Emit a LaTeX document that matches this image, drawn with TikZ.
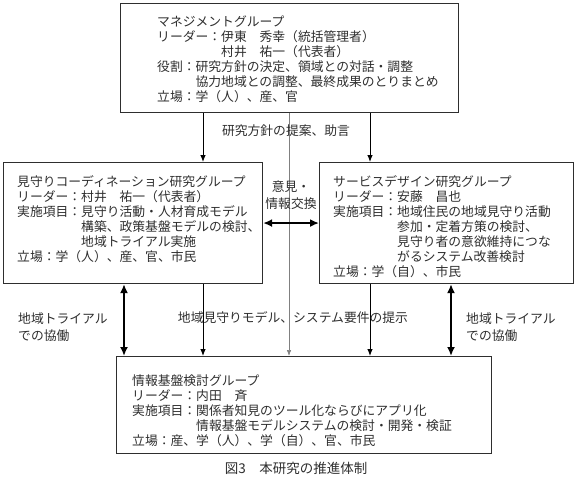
\documentclass[tikz,border=0pt]{standalone}
\usepackage{fontspec}
\setmainfont{Noto Sans CJK JP}
\usetikzlibrary{arrows.meta,positioning}
\definecolor{boxgray}{HTML}{2E2E2E}
\definecolor{linegray}{HTML}{808080}
\tikzset{
    >={Latex[length=7pt,width=5.5pt]},
    groupbox/.style={
        rectangle,
        draw=boxgray,
        line width=1.1pt,
        anchor=north west,
        inner sep=0pt
    },
    grouptext/.style={
        anchor=north west,
        align=left,
        inner sep=0pt,
        text=boxgray,
        font={\fontsize{12.8pt}{15pt}\selectfont}
    },
    lbl/.style={
        align=center,
        inner sep=0pt,
        text=boxgray,
        font={\fontsize{12.8pt}{17pt}\selectfont}
    },
    flow/.style={draw=black, line width=0.9pt, ->},
    guide/.style={draw=linegray, line width=0.6pt, -{Latex[length=6pt,width=4.5pt]}},
    coop/.style={draw=black, line width=2.4pt,
        {Latex[length=9pt,width=8pt]}-{Latex[length=9pt,width=8pt]}},
}

\begin{document}
\begin{tikzpicture}[x=1pt,y=-1pt]
\useasboundingbox (0,0) rectangle (580,476);

% group boxes
\node[groupbox, minimum width=338pt, minimum height=109pt] (mgmt) at (120,3) {};
\node[groupbox, minimum width=259pt, minimum height=121pt] (coord) at (3,162) {};
\node[groupbox, minimum width=254pt, minimum height=121pt] (design) at (319,162) {};
\node[groupbox, minimum width=375pt, minimum height=97pt] (infra) at (116,356) {};

% box contents
\node[grouptext] (mgmttext) at (157,15.5) {マネジメントグループ\\
  リーダー：伊東　秀幸（統括管理者）\\
  \hphantom{リーダー：}村井　祐一（代表者）\\
  役割：研究方針の決定、領域との対話・調整\\
  \hphantom{役割：}協力地域との調整、最終成果のとりまとめ\\
  立場：学（人）、産、官};
\node[grouptext] (coordtext) at (17,175.5) {見守りコーディネーション研究グループ\\
  リーダー：村井　祐一（代表者）\\
  実施項目：見守り活動・人材育成モデル\\
  \hphantom{実施項目：}構築、政策基盤モデルの検討、\\
  \hphantom{実施項目：}地域トライアル実施\\
  立場：学（人）、産、官、市民};
\node[grouptext] (designtext) at (333,175.5) {サービスデザイン研究グループ\\
  リーダー：安藤　昌也\\
  実施項目：地域住民の地域見守り活動\\
  \hphantom{実施項目：}参加・定着方策の検討、\\
  \hphantom{実施項目：}見守り者の意欲維持につな\\
  \hphantom{実施項目：}がるシステム改善検討\\
  立場：学（自）、市民};
\node[grouptext] (infratext) at (132,374.5) {情報基盤検討グループ\\
  リーダー：内田　斉\\
  実施項目：関係者知見のツール化ならびにアプリ化\\
  \hphantom{実施項目：}情報基盤モデルシステムの検討・開発・検証\\
  立場：産、学（人）、学（自）、官、市民};

% connector columns
\coordinate (xl) at (124,0);
\coordinate (xa) at (203,0);
\coordinate (xm) at (289,0);
\coordinate (xb) at (370,0);
\coordinate (xr) at (451,0);

\draw[flow] (mgmt.south -| xa) -- (coord.north -| xa);
\draw[flow] (mgmt.south -| xb) -- (design.north -| xb);
\draw[guide] (mgmt.south -| xm) -- (infra.north -| xm);
\draw[coop] (coord.east) -- (design.west);
\draw[coop] (coord.south -| xl) -- (infra.north -| xl);
\draw[flow] (coord.south -| xa) -- (infra.north -| xa);
\draw[flow] (design.south -| xb) -- (infra.north -| xb);
\draw[coop] (design.south -| xr) -- (infra.north -| xr);

% labels
\node[lbl] (advice) at (286,131) {研究方針の提案、助言};
\node[lbl] (opinion) at (291,195) {意見・\\情報交換};
\node[lbl] (model) at (293,318) {地域見守りモデル、システム要件の提示};
\node[lbl, align=left, anchor=west] (trialleft) at (18,327) {地域トライアル\\での協働};
\node[lbl, align=left, anchor=west] (trialright) at (466,327) {地域トライアル\\での協働};
\node[lbl, font={\fontsize{13.5pt}{16pt}\selectfont}] (caption) at (296,468) {図3　本研究の推進体制};
\end{tikzpicture}
\end{document}
